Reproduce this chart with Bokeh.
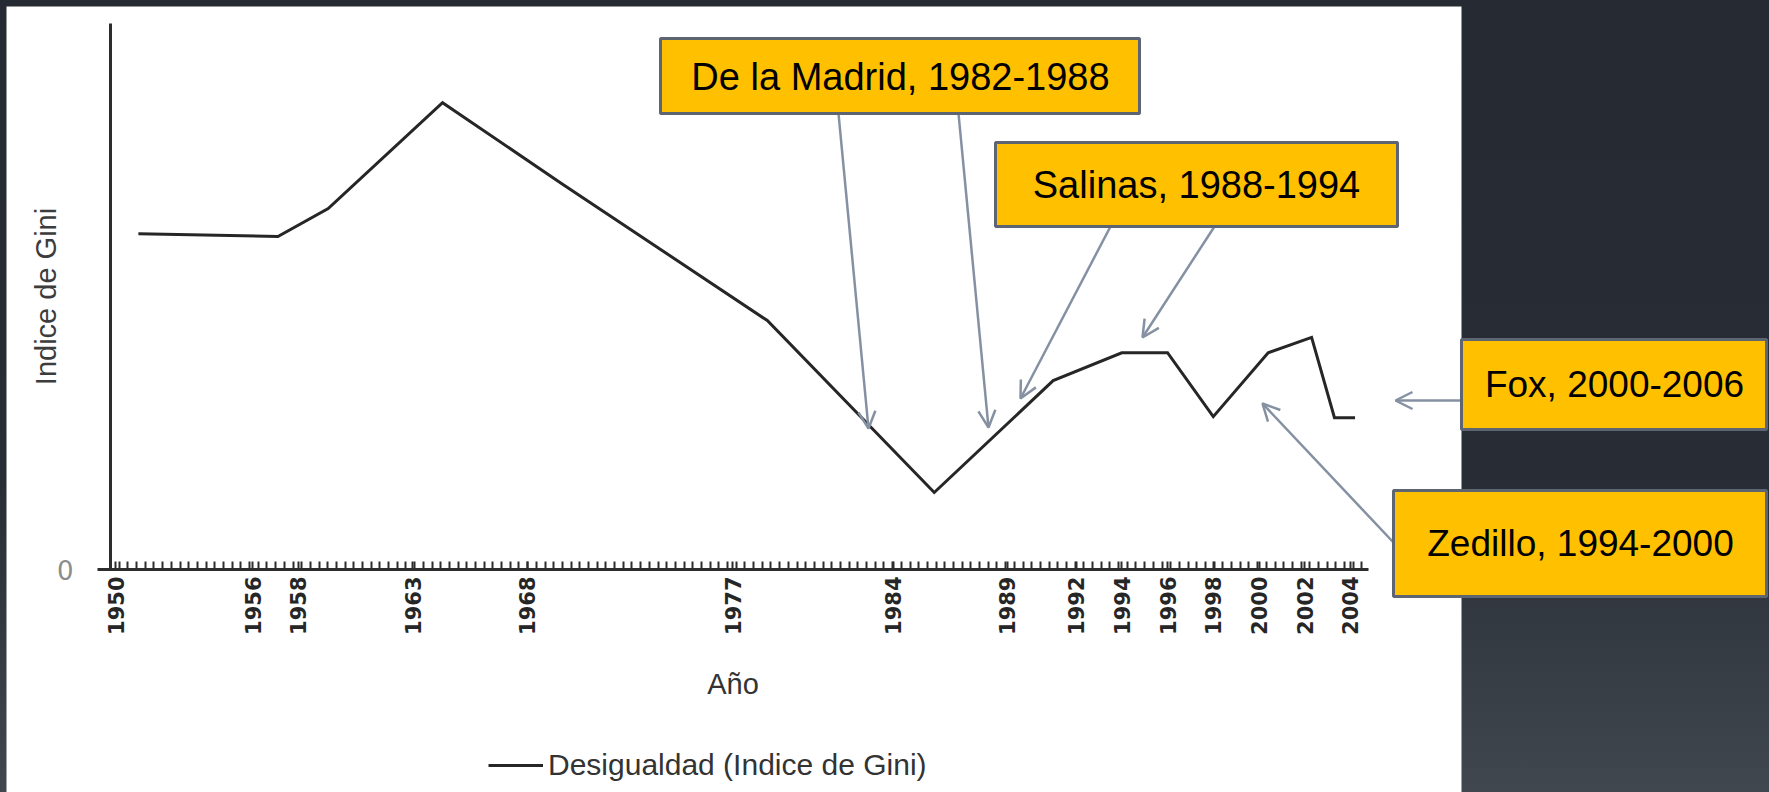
import math
import numpy as np
from bokeh.plotting import figure
from bokeh.models import (Range1d, LinearAxis, FixedTicker, BoxAnnotation, Label, Arrow,
                          OpenHead, Legend, LegendItem, ColumnDataSource, GlobalInlineStyleSheet)
from bokeh.embed import file_html
from bokeh.resources import INLINE

# ---------------- data ----------------
years = [1951.0, 1957.1, 1959.3, 1964.3, 1969.5, 1978.5, 1985.8, 1991.0,
         1994.0, 1996.0, 1998.0, 2000.4, 2002.3, 2003.3, 2004.2]
gini = [61.5, 61.0, 66.1, 85.5, 70.7, 45.6, 14.1, 34.6,
        39.7, 39.7, 28.0, 39.7, 42.5, 27.8, 27.8]
tick_years = [1950, 1956, 1958, 1963, 1968, 1977, 1984, 1989,
              1992, 1994, 1996, 1998, 2000, 2002, 2004]
series_name = "Desigualdad (Indice de Gini)"
x_title = "Año"
y_title = "Indice de Gini"
presidencies = ["De la Madrid, 1982-1988", "Salinas, 1988-1994",
                "Fox, 2000-2006", "Zedillo, 1994-2000"]

# ---------------- layout helpers (page pixels -> data units) ----------------
W, H = 1769, 792
PX_PER_YEAR = 22.87
PX_PER_UNIT = 5.46


def X(px):
    return 1950 + (px - 115) / PX_PER_YEAR


def Y(py):
    return (569 - py) / PX_PER_UNIT


p = figure(width=W, height=H, output_backend="svg", toolbar_location=None,
           x_axis_type=None, y_axis_type=None, min_border=0,
           x_range=Range1d(X(0), X(W)), y_range=Range1d(Y(H), Y(0)))
p.background_fill_alpha = 0
p.border_fill_alpha = 0
p.outline_line_color = None
p.stylesheets = [GlobalInlineStyleSheet(css=(
    "html{min-height:100%;background:linear-gradient(180deg,#262b33 0%,#282d35 60%,#41474f 100%);}"
    "body{background:transparent;}"))]

# white slide panel
p.add_layout(BoxAnnotation(left=X(6), right=X(1461), top=Y(6), bottom=Y(810),
                           fill_color="white", fill_alpha=1, line_alpha=0, level="underlay"))

# ---------------- axes ----------------
minor = list(np.arange(X(110) + 0.38, X(1368), 0.38))
xaxis = LinearAxis(fixed_location=0, bounds=(X(97), X(1368)),
                   ticker=FixedTicker(ticks=tick_years, minor_ticks=minor))
xaxis.axis_line_width = 3
xaxis.axis_line_color = "#2d2d2d"
xaxis.major_tick_in = 8
xaxis.major_tick_out = 0
xaxis.major_tick_line_width = 2
xaxis.major_tick_line_color = "#2d2d2d"
xaxis.minor_tick_in = 8
xaxis.minor_tick_out = 0
xaxis.minor_tick_line_width = 2
xaxis.minor_tick_line_color = "#2d2d2d"
xaxis.major_label_orientation = math.pi / 2
xaxis.major_label_standoff = 7
xaxis.major_label_text_font = "DejaVu Sans"
xaxis.major_label_text_font_size = "21px"
xaxis.major_label_text_font_style = "bold"
xaxis.major_label_text_color = "#262626"
xaxis.axis_label = x_title
xaxis.axis_label_text_font = "Liberation Sans"
xaxis.axis_label_text_font_size = "29px"
xaxis.axis_label_text_font_style = "normal"
xaxis.axis_label_text_color = "#333333"
xaxis.axis_label_standoff = 30
p.add_layout(xaxis, "below")

yaxis = LinearAxis(fixed_location=X(110), bounds=(0, Y(23)),
                   ticker=FixedTicker(ticks=[0], minor_ticks=[]))
yaxis.axis_line_width = 3
yaxis.axis_line_color = "#2d2d2d"
yaxis.major_tick_in = 0
yaxis.major_tick_out = 0
yaxis.minor_tick_in = 0
yaxis.minor_tick_out = 0
yaxis.major_label_standoff = 37
yaxis.major_label_text_font = "DejaVu Sans"
yaxis.major_label_text_font_size = "26px"
yaxis.major_label_text_color = "#8c8c8c"
yaxis.major_label_text_baseline = "bottom"
yaxis.axis_label = y_title
yaxis.axis_label_text_font = "Liberation Sans"
yaxis.axis_label_text_font_size = "29px"
yaxis.axis_label_text_font_style = "normal"
yaxis.axis_label_text_color = "#3c3c3c"
yaxis.axis_label_standoff = -8
p.add_layout(yaxis, "left")

# ---------------- series ----------------
src = ColumnDataSource(data=dict(year=years, gini=gini))
line = p.line(x="year", y="gini", source=src, line_width=3, line_color="#262626",
              line_join="miter")

legend = Legend(items=[LegendItem(label=series_name, renderers=[line])],
                location=(488, 10), glyph_width=55, glyph_height=34, label_height=34,
                label_standoff=5, padding=0, margin=0, spacing=0,
                border_line_alpha=0, background_fill_alpha=0,
                label_text_font="Liberation Sans", label_text_font_size="30px",
                label_text_color="#333333")
p.add_layout(legend)

# ---------------- annotations ----------------
ARROW_COLOR = "#8591a2"
arrows = [((838, 113), (868, 428)), ((958, 113), (988, 427)),
          ((1110, 226), (1020, 398)), ((1214, 226), (1142, 337)),
          ((1461, 400), (1395, 400)), ((1393, 542), (1262, 403))]
for (sx, sy), (ex, ey) in arrows:
    p.add_layout(Arrow(x_start=X(sx), y_start=Y(sy), x_end=X(ex), y_end=Y(ey),
                       line_color=ARROW_COLOR, line_width=2.5,
                       end=OpenHead(size=17, line_color=ARROW_COLOR, line_width=2.5)))

boxes = [(660, 1139, 38, 113), (995, 1397, 142, 226),
         (1461, 1766, 339, 429), (1393, 1766, 490, 596)]
for l, r, t, b in boxes:
    p.add_layout(BoxAnnotation(left=X(l), right=X(r), top=Y(t), bottom=Y(b),
                               fill_color="#FFC000", fill_alpha=1,
                               line_color="#5d6573", line_width=3, line_alpha=1))

centers = [(900, 76, "38px"), (1196, 184, "38px"), (1614, 384, "37px"), (1580, 543, "37px")]
for txt, (cx, cy, fs) in zip(presidencies, centers):
    p.add_layout(Label(x=X(cx), y=Y(cy), text=txt, text_align="center",
                       text_baseline="middle", text_font="Liberation Sans",
                       text_font_size=fs, text_color="black"))

open("out.html", "w").write(file_html(p, INLINE))
